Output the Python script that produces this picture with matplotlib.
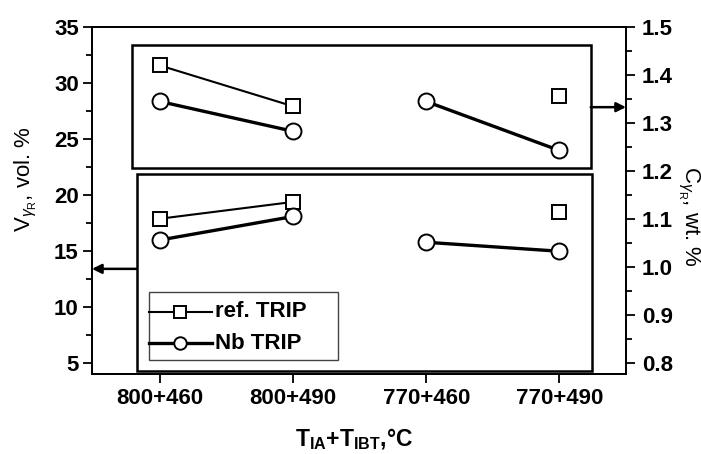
import numpy as np
import matplotlib
matplotlib.use("Agg")
import matplotlib.pyplot as plt
from matplotlib.patches import Rectangle
from matplotlib.lines import Line2D
from matplotlib.ticker import MultipleLocator

plt.rcParams['font.family'] = ['Liberation Sans', 'DejaVu Sans']
plt.rcParams['mathtext.fontset'] = 'custom'
plt.rcParams['mathtext.rm'] = 'Liberation Sans'
plt.rcParams['mathtext.it'] = 'Liberation Sans:italic'
plt.rcParams['mathtext.bf'] = 'Liberation Sans:bold'

# Heat-treatment routes (intercritical annealing + isothermal bainitic treatment)
routes = ['800+460', '800+490', '770+460', '770+490']
groups = [[0, 1], [2, 3]]

# Retained austenite volume fraction, vol. %
v_ref = [17.9, 19.4, np.nan, 18.5]
v_nb = [16.0, 18.1, 15.8, 15.0]

# Carbon content of retained austenite, wt. %
c_ref = [1.42, 1.335, np.nan, 1.356]
c_nb = [1.345, 1.283, 1.345, 1.243]

series_names = ['ref. TRIP', 'Nb TRIP']

fig = plt.figure(figsize=(7.01, 4.54), dpi=100)
ax = fig.add_axes([0.1312, 0.1762, 0.7618, 0.7643])
ax2 = ax.twinx()

x = np.arange(len(routes))

sq = dict(marker='s', markersize=10, markerfacecolor='white',
          markeredgecolor='black', markeredgewidth=1.4, color='black', lw=1.5)
ci = dict(marker='o', markersize=11.5, markerfacecolor='white',
          markeredgecolor='black', markeredgewidth=1.4, color='black', lw=2.4)

for g in groups:
    xi = x[g]
    ax.plot(xi, np.array(v_ref)[g], **sq, zorder=3)
    ax.plot(xi, np.array(v_nb)[g], **ci, zorder=3)
    ax2.plot(xi, np.array(c_ref)[g], **sq, zorder=3)
    ax2.plot(xi, np.array(c_nb)[g], **ci, zorder=3)

ax.set_xlim(-0.51, 3.5)
ax.set_ylim(4.05, 35)
ax2.set_ylim(0.8 + (4.05 - 5) * 0.7 / 30, 1.5)

ax.set_xticks(x)
ax.set_xticklabels(routes)
ax.set_yticks(np.arange(5, 36, 5))
ax.yaxis.set_minor_locator(MultipleLocator(2.5))
c_ticks = np.arange(0.8, 1.51, 0.1)
ax2.set_yticks(c_ticks)
ax2.set_yticklabels([f'{v:.1f}' for v in c_ticks])
ax2.yaxis.set_minor_locator(MultipleLocator(0.05))

for a in (ax, ax2):
    for s in a.spines.values():
        s.set_linewidth(1.3)
    a.tick_params(which='major', direction='out', length=6.5, width=1.3,
                  labelsize=16, pad=3)
    a.tick_params(which='minor', direction='out', length=4, width=1.3)
    for lab in a.get_xticklabels() + a.get_yticklabels():
        lab.set_fontweight('bold')
ax.tick_params(axis='x', which='major', pad=3.5)
ax2.tick_params(axis='y', which='major', pad=5)

ax.set_ylabel(r'V$_{\gamma_{\mathrm{R}}}$, vol. %', fontsize=16)
ax.yaxis.set_label_coords(-0.100, 0.563)
ax2.set_ylabel(r'C$_{\gamma_{\mathrm{R}}}$, wt. %', fontsize=16,
               rotation=270, va='bottom')
ax2.yaxis.set_label_coords(1.094, 0.454)
ax.set_xlabel(r'T$_{\mathbf{IA}}$+T$_{\mathbf{IBT}}$,°C', fontsize=16.5,
              fontweight='bold')
ax.xaxis.set_label_coords(0.491, -0.150)

# Frames grouping the two quantities
ax2.add_patch(Rectangle((0.075, 0.594), 0.859, 0.354, transform=ax2.transAxes,
                        fill=False, lw=1.8, ec='black', zorder=2))
ax2.add_patch(Rectangle((0.084, 0.009), 0.852, 0.567, transform=ax2.transAxes,
                        fill=False, lw=1.8, ec='black', zorder=2))

# Arrows pointing to the relevant axis
ax2.annotate('', xy=(1.0, 0.769), xytext=(0.934, 0.769),
             xycoords='axes fraction', textcoords='axes fraction',
             arrowprops=dict(arrowstyle='-|>', lw=1.8, color='black',
                             mutation_scale=14, shrinkA=0, shrinkB=0))
ax2.annotate('', xy=(0.0, 0.303), xytext=(0.084, 0.303),
             xycoords='axes fraction', textcoords='axes fraction',
             arrowprops=dict(arrowstyle='-|>', lw=1.8, color='black',
                             mutation_scale=14, shrinkA=0, shrinkB=0))

# Legend box
ax2.add_patch(Rectangle((0.1067, 0.0403), 0.354, 0.196, transform=ax2.transAxes,
                        fill=True, fc='white', lw=1.0, ec='#444444', zorder=4))
leg_style = [dict(sq, markersize=8), dict(ci, markersize=9)]
for name, style, yy in zip(series_names, leg_style, [0.1795, 0.0885]):
    ax2.add_line(Line2D([0.1067, 0.2247], [yy, yy], transform=ax2.transAxes,
                        color='black', lw=style['lw'], zorder=5))
    ax2.add_line(Line2D([0.1648], [yy], transform=ax2.transAxes, zorder=6,
                        **{k: v for k, v in style.items() if k != 'lw'},
                        linestyle='none'))
    ax2.text(0.2303, yy, name, transform=ax2.transAxes, fontsize=16,
             fontweight='bold', va='center', ha='left', zorder=6)

fig.savefig('out.png', dpi=100)
